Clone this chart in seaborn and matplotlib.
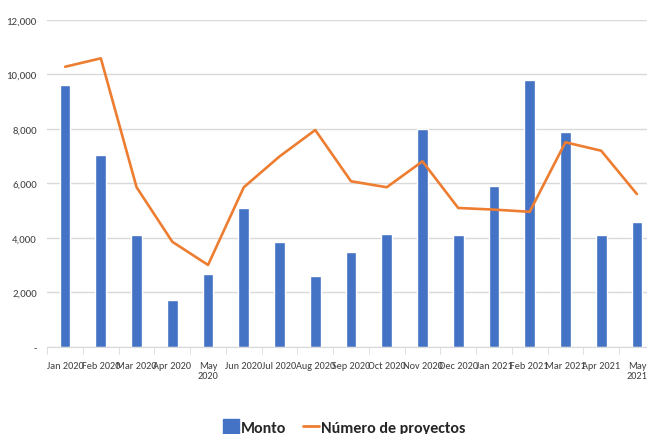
import numpy as np
import matplotlib
matplotlib.use("Agg")
import matplotlib.pyplot as plt
import seaborn as sns
from matplotlib.ticker import FuncFormatter, FixedLocator
from matplotlib.lines import Line2D
from matplotlib.patches import Patch

# data
months = ["Jan 2020", "Feb 2020", "Mar 2020", "Apr 2020", "May\n2020", "Jun 2020",
          "Jul 2020", "Aug 2020", "Sep 2020", "Oct 2020", "Nov 2020", "Dec 2020",
          "Jan 2021", "Feb 2021", "Mar 2021", "Apr 2021", "May\n2021"]
monto = [9600, 7030, 4100, 1720, 2670, 5100, 3840, 2600, 3480, 4130,
         7980, 4120, 5910, 9810, 7900, 4100, 4580]
proyectos = [10280, 10590, 5860, 3860, 3010, 5860, 6990, 7960, 6080, 5860,
             6810, 5100, 5040, 4960, 7510, 7200, 5610]

blue = "#4472C4"
orange = "#ED7D31"
grey_txt = "#404040"

sns.set_style("white")
plt.rcParams['font.family'] = ['Carlito', 'DejaVu Sans']

fig = plt.figure(figsize=(6.47, 4.35), dpi=100)
ax = fig.add_axes([0.073, 0.2, 0.939, 0.752])

sns.barplot(x=months, y=monto, color=blue, width=0.3, ax=ax, saturation=1)
sns.lineplot(x=np.arange(len(months)), y=proyectos, color=orange, linewidth=1.9, ax=ax)

ax.set_xlim(-0.5, len(months) - 0.5)
ax.set_ylim(0, 12000)
ax.set_yticks(range(0, 12001, 2000))
ax.yaxis.set_major_formatter(FuncFormatter(lambda v, p: "-" if v == 0 else f"{int(v):,}"))
ax.grid(axis="y", color="#d9d9d9", linewidth=1)
ax.set_axisbelow(True)

for s in ["top", "right", "left"]:
    ax.spines[s].set_visible(False)
ax.spines["bottom"].set_color("#d9d9d9")

ax.tick_params(axis="y", length=0, pad=7.5, labelsize=7.8, labelcolor=grey_txt)
ax.tick_params(axis="x", which="major", length=0, pad=10, labelsize=7.4, labelcolor=grey_txt)
ax.xaxis.set_minor_locator(FixedLocator(np.arange(-0.5, len(months), 1)))
ax.tick_params(axis="x", which="minor", length=5, color="#d9d9d9", bottom=True)
ax.set_xlabel("")
ax.set_ylabel("")

handles = [Patch(color=blue, label="Monto"),
           Line2D([0], [0], color=orange, linewidth=2, label="Número de proyectos")]
fig.legend(handles=handles, loc="center", bbox_to_anchor=(0.532, 0.016),
           ncol=2, frameon=False, prop={"size": 11.5, "weight": "bold"},
           handlelength=1.0, handleheight=1.0, columnspacing=1.0, handletextpad=0.15,
           labelcolor="#262626")

fig.savefig("out.png", dpi=100)
